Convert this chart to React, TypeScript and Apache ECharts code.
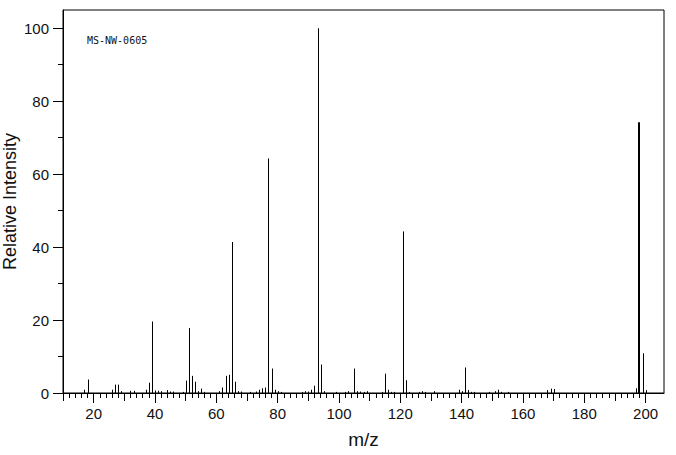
import React, { useEffect, useRef } from "react";
import * as echarts from "echarts";

// m/z values and relative intensities
const mz: number[] = [
  17, 18, 26, 27, 28, 29, 32, 33, 37, 38, 39, 40, 41, 42, 44, 45, 46, 49, 50, 51,
  52, 53, 54, 55, 56, 61, 62, 63, 64, 65, 66, 67, 68, 71, 73, 74, 75, 76, 77, 78,
  79, 80, 81, 88, 89, 90, 91, 92, 93, 94, 95, 99, 102, 103, 105, 106, 107, 108, 109, 114,
  115, 116, 117, 118, 121, 122, 123, 126, 127, 128, 131, 139, 140, 141, 142, 143, 144, 149, 151, 152,
  153, 155, 168, 169, 170, 197, 198, 199, 200,
];
const intensity: number[] = [
  0.9, 3.7, 0.9, 2.3, 2.3, 0.5, 0.6, 0.6, 0.9, 2.8, 19.6, 0.7, 0.6, 0.5, 0.8, 0.4, 0.4, 0.3, 3.4, 17.8,
  4.7, 3.1, 0.5, 1.2, 0.3, 0.5, 1.5, 4.7, 5.0, 41.4, 3.1, 0.5, 0.4, 0.3, 0.4, 0.9, 1.3, 1.5, 64.3, 6.7,
  0.9, 0.5, 0.3, 0.3, 0.5, 0.4, 0.9, 2.0, 100, 7.8, 0.5, 0.3, 0.3, 0.5, 6.7, 0.5, 0.4, 0.3, 0.5, 0.3,
  5.3, 0.9, 0.3, 0.3, 44.3, 3.5, 0.3, 0.3, 0.5, 0.3, 0.5, 0.9, 0.5, 7.0, 0.8, 0.3, 0.3, 0.3, 0.5, 0.9,
  0.3, 0.3, 0.8, 1.2, 1.1, 1.3, 74.2, 10.9, 0.8,
];

// axis ticks
const xLabelTicks: number[] = [20, 40, 60, 80, 100, 120, 140, 160, 180, 200];
const xMidTicks: number[] = [10, 30, 50, 70, 90, 110, 130, 150, 170, 190];
const xMinorTicks: number[] = [
  10, 12, 14, 16, 18, 20, 22, 24, 26, 28, 30, 32, 34, 36, 38, 40, 42, 44, 46, 48,
  50, 52, 54, 56, 58, 60, 62, 64, 66, 68, 70, 72, 74, 76, 78, 80, 82, 84, 86, 88,
  90, 92, 94, 96, 98, 100, 102, 104, 106, 108, 110, 112, 114, 116, 118, 120, 122, 124, 126, 128,
  130, 132, 134, 136, 138, 140, 142, 144, 146, 148, 150, 152, 154, 156, 158, 160, 162, 164, 166, 168,
  170, 172, 174, 176, 178, 180, 182, 184, 186, 188, 190, 192, 194, 196, 198, 200,
];
const yLabelTicks: number[] = [0, 20, 40, 60, 80, 100];
const yMinorTicks: number[] = [10, 30, 50, 70, 90];

const sampleId = "MS-NW-0605";
const xTitle = "m/z";
const yTitle = "Relative Intensity";

const FONT = "Liberation Sans, Arial, sans-serif";

export default function App() {
  const ref = useRef<HTMLDivElement>(null);

  useEffect(() => {
    if (!ref.current) return;
    const chart = echarts.init(ref.current, undefined, { renderer: "svg" });
    const data = mz.map((m, i) => [m, intensity[i]]);
    const common = {
      type: "value" as const,
      min: 10,
      max: 206,
      interval: 10,
      position: "bottom" as const,
      offset: 0,
      splitLine: { show: false },
    };
    const yCommon = {
      type: "value" as const,
      min: 0,
      max: 105,
      interval: 10,
      offset: 0,
      splitLine: { show: false },
      position: "left" as const,
    };
    chart.setOption({
      animation: false,
      backgroundColor: "#fff",
      grid: {
        show: true,
        left: 63,
        right: 12,
        top: 10,
        bottom: 62,
        containLabel: false,
        outerBoundsMode: "none",
        borderColor: "#000",
        borderWidth: 1,
      },
      xAxis: [
        {
          ...common,
          axisLine: { show: true, lineStyle: { color: "#000", width: 1 } },
          axisTick: { show: true, customValues: xMinorTicks, length: 5, lineStyle: { color: "#000" } },
          axisLabel: { show: false },
        },
        {
          ...common,
          axisLine: { show: false },
          axisTick: { show: true, customValues: xMidTicks, length: 8, lineStyle: { color: "#000" } },
          axisLabel: { show: false },
        },
        {
          ...common,
          axisLine: { show: false },
          axisTick: { show: true, customValues: xLabelTicks, length: 10, lineStyle: { color: "#000" } },
          axisLabel: {
            show: true,
            customValues: xLabelTicks,
            margin: 13,
            fontSize: 15,
            color: "#111",
            fontFamily: FONT,
          },
          name: xTitle,
          nameLocation: "middle",
          nameGap: 37,
          nameMoveOverlap: false,
          nameTextStyle: { fontSize: 19, color: "#111", fontFamily: FONT },
        },
      ],
      yAxis: [
        {
          ...yCommon,
          axisLine: { show: true, lineStyle: { color: "#000", width: 1 } },
          axisTick: { show: true, customValues: yLabelTicks, length: 10, lineStyle: { color: "#000" } },
          axisLabel: {
            show: true,
            customValues: yLabelTicks,
            margin: 14,
            fontSize: 15,
            color: "#111",
            fontFamily: FONT,
          },
          name: yTitle,
          nameLocation: "middle",
          nameGap: 44,
          nameMoveOverlap: false,
          nameRotate: 90,
          nameTextStyle: { fontSize: 18, color: "#111", fontFamily: FONT },
        },
        {
          ...yCommon,
          axisLine: { show: false },
          axisTick: { show: true, customValues: yMinorTicks, length: 5, lineStyle: { color: "#000" } },
          axisLabel: { show: false },
        },
      ],
      graphic: [
        {
          type: "text",
          left: 87,
          top: 35,
          style: {
            text: sampleId,
            fontSize: 10,
            fontFamily: "DejaVu Sans Mono, monospace",
            fill: "#111",
          },
        },
      ],
      series: [
        {
          type: "custom",
          xAxisIndex: 0,
          yAxisIndex: 0,
          data,
          clip: true,
          renderItem: (params: any, api: any) => {
            const m = api.value(0);
            const h = api.value(1);
            const p0 = api.coord([m, 0]);
            const p1 = api.coord([m, h]);
            const w = h > 70 && m > 190 ? 2 : 1;
            const x = w === 1 ? Math.round(p0[0]) + 0.5 : Math.round(p0[0]);
            return {
              type: "line",
              shape: { x1: x, y1: p0[1], x2: x, y2: p1[1] },
              style: { stroke: "#000", lineWidth: w },
            };
          },
        },
      ],
    });
    return () => chart.dispose();
  }, []);

  return (
    <div
      ref={ref}
      style={{ position: "fixed", left: 0, top: 0, width: 676, height: 455 }}
    />
  );
}
